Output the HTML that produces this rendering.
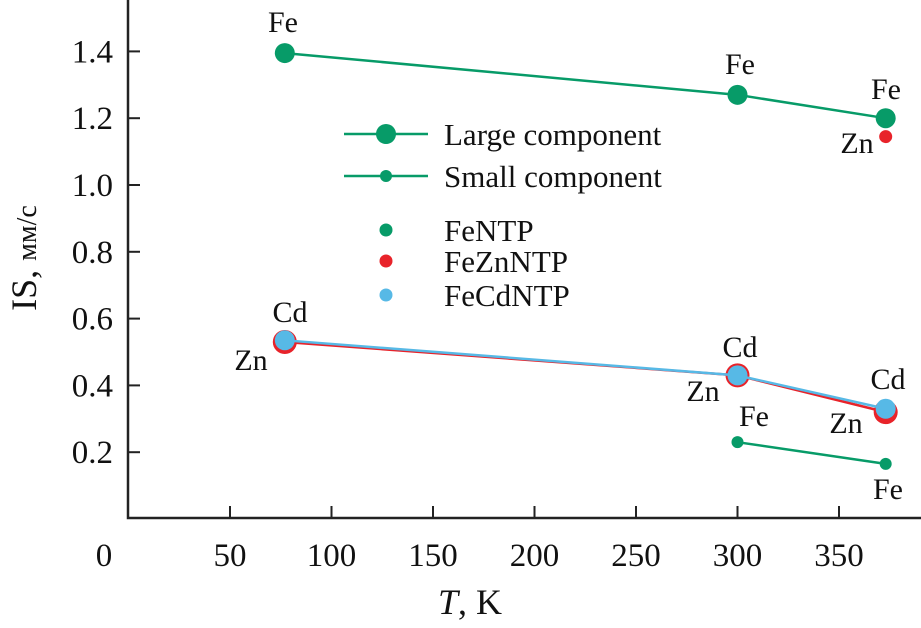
<!DOCTYPE html>
<html><head><meta charset="utf-8"><style>
html,body{margin:0;padding:0;background:#fff;}
svg{display:block;}
svg text{font-family:"Liberation Serif","Times New Roman",serif;}
</style></head><body>
<svg id="chart" width="921" height="628" xmlns="http://www.w3.org/2000/svg"></svg>
<script>
const xTicks=[0,50,100,150,200,250,300,350];
const yTicks=[0.2,0.4,0.6,0.8,1.0,1.2,1.4];
const largeT=[77,300,373];
const largeFe=[1.395,1.27,1.20];
const largeZn=[0.53,0.43,0.32];
const largeCd=[0.535,0.43,0.33];
const smallT=[300,373];
const smallFe=[0.23,0.165];
const smallZnT=[373];
const smallZn=[1.145];

const NS="http://www.w3.org/2000/svg";
const svg=document.getElementById('chart');
const X0=128,Y0=518;
function sx(t){return 128.5+t*2.03;}
function sy(v){return 519-v*334;}
function mk(tag,attrs,parent){const e=document.createElementNS(NS,tag);for(const k in attrs)e.setAttribute(k,attrs[k]);(parent||svg).appendChild(e);return e;}
function txt(x,y,s,size,anchor,name){const t=mk('text',{x:x,y:y,'font-size':size,'text-anchor':anchor||'middle',fill:'#111','font-family':'Liberation Serif, serif'});t.textContent=s;


return t;}

const ax=mk('path',{d:`M${X0} 0 V${Y0} H921`,stroke:'#222','stroke-width':2.5,fill:'none'});



xTicks.forEach(t=>{const x=sx(t);
 if(t>0){const l=mk('line',{x1:x,x2:x,y1:Y0,y2:Y0-12,stroke:'#222','stroke-width':2});
 
 }
 txt(t===0?104:x,566,String(t),33,'middle','x-tick-label');
});
yTicks.forEach(v=>{const y=sy(v);
 const l=mk('line',{x1:X0,x2:X0+12,y1:y,y2:y,stroke:'#222','stroke-width':2});
 
 
 txt(113,y+11,v.toFixed(1),33,'end','y-tick-label');
});
const xt=txt(470,614,'',36,'middle','x-axis-title');
const ti=mk('tspan',{'font-style':'italic'},xt);ti.textContent='T';
const t2=mk('tspan',{},xt);t2.textContent=', K';
const yt=txt(0,0,'',36,'middle','y-axis-title');
const y1=mk('tspan',{},yt);y1.textContent='IS, ';
const y2=mk('tspan',{'font-size':28},yt);y2.textContent='мм/с';
yt.setAttribute('transform','translate(36,258) rotate(-90)');

function series(T,V,color,r,lw,name){
 const pts=T.map((t,i)=>sx(t)+','+sy(V[i])).join(' ');
 if(lw>0){const p=mk('polyline',{points:pts,fill:'none',stroke:color,'stroke-width':lw});
 
 }
 T.forEach((t,i)=>{const c=mk('circle',{cx:sx(t),cy:sy(V[i]),r:r,fill:color});
 
 });
}
series(largeT,largeFe,'#079b68',10,2.5,'large-fe');
series(largeT,largeZn,'#e8232a',12,2.5,'large-zn');
series(largeT,largeCd,'#57b9e6',10,2.5,'large-cd');
series(smallT,smallFe,'#079b68',6,2.5,'small-fe');
series(smallZnT,smallZn,'#e8232a',6.5,0,'small-zn');

txt(283,32,'Fe',30,'middle','label');txt(740,74,'Fe',30,'middle','label');txt(886,99,'Fe',30,'middle','label');
txt(857,153,'Zn',30,'middle','label');
txt(290,322,'Cd',30,'middle','label');txt(251,370,'Zn',30,'middle','label');
txt(740,357,'Cd',30,'middle','label');txt(703,401,'Zn',30,'middle','label');
txt(888,389,'Cd',30,'middle','label');txt(846,433,'Zn',30,'middle','label');
txt(754,426,'Fe',30,'middle','label');txt(888,499,'Fe',30,'middle','label');

const leg=[['Large component','#079b68',10,true,132],['Small component','#079b68',6,true,174],['FeNTP','#079b68',6.5,false,228],['FeZnNTP','#e8232a',6.5,false,259],['FeCdNTP','#57b9e6',6.5,false,293]];
leg.forEach(([lab,c,r,line,y])=>{
 if(line){const l=mk('line',{x1:344,x2:428,y1:y+2,y2:y+2,stroke:c,'stroke-width':2.5});
 
 }
 const ci=mk('circle',{cx:386,cy:y+2,r:r,fill:c});
 
 
 txt(444,y+13,lab,31,'start','legend-entry');
});
</script>
</body></html>
